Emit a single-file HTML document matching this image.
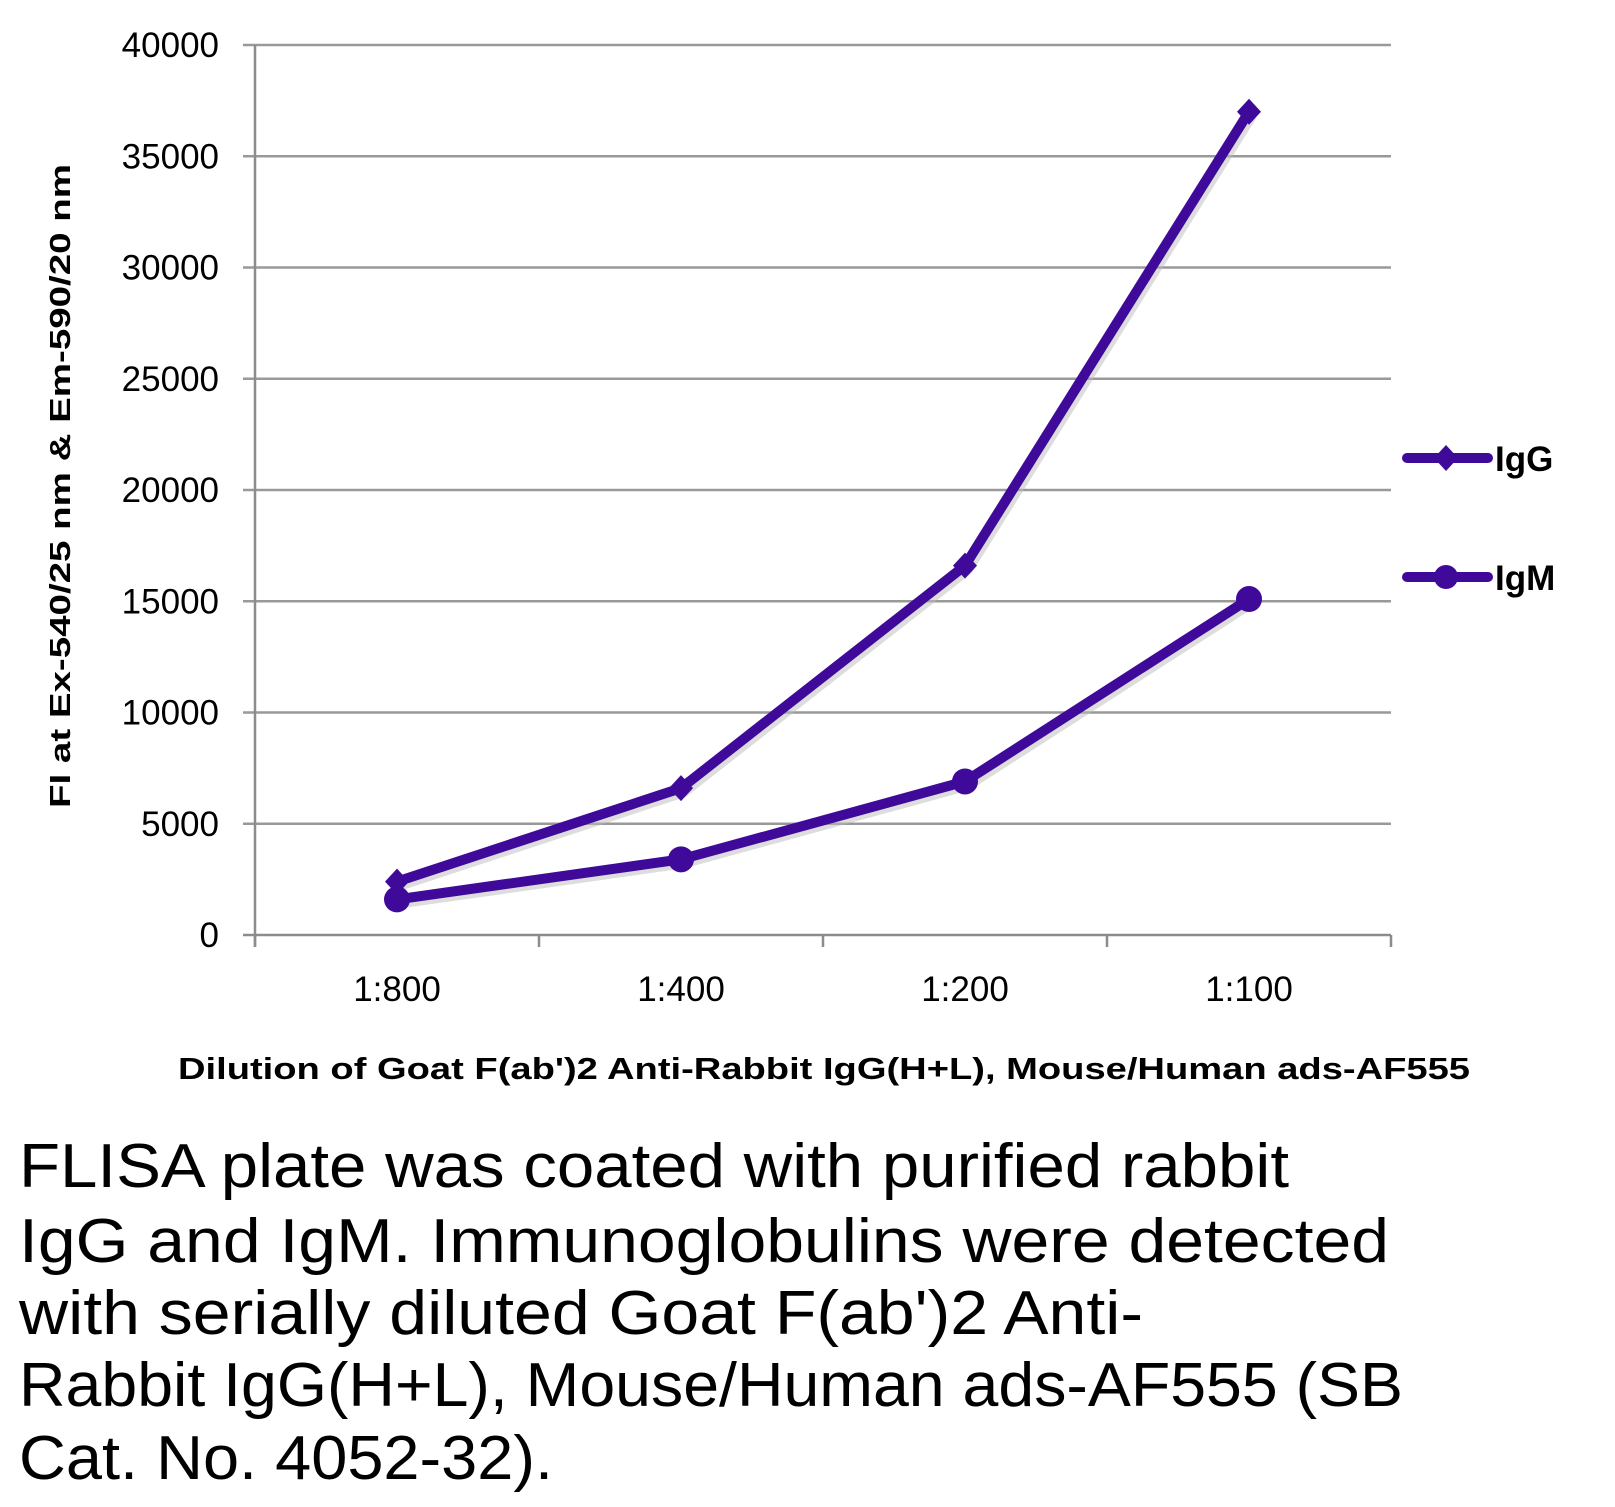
<!DOCTYPE html>
<html><head><meta charset="utf-8"><style>body{margin:0;background:#fff}svg{display:block}</style></head>
<body>
<svg id="chart" width="1615" height="1507" xmlns="http://www.w3.org/2000/svg" font-family="'Liberation Sans', sans-serif">
<g id="grid"></g>
<g id="axes"></g>
<g id="series"></g>
<text x="0" y="0" transform="translate(70,486) rotate(-90)" text-anchor="middle" font-size="29" font-weight="bold" textLength="644" lengthAdjust="spacingAndGlyphs">FI at Ex-540/25 nm &amp; Em-590/20 nm</text>
<text x="178" y="1079" font-size="31" font-weight="bold" textLength="1292" lengthAdjust="spacingAndGlyphs">Dilution of Goat F(ab')2 Anti-Rabbit IgG(H+L), Mouse/Human ads-AF555</text>
<g>
<g>
<line x1="1407" y1="458" x2="1488" y2="458" stroke="#3f0a9a" stroke-width="10" stroke-linecap="round"/>
<path d="M1446,445 L1458,458 L1446,471 L1434,458Z" fill="#3f0a9a"/>
<text x="1495" y="471" font-size="35" font-weight="bold">IgG</text></g>
<g>
<line x1="1407" y1="577" x2="1488" y2="577" stroke="#3f0a9a" stroke-width="10" stroke-linecap="round"/>
<circle cx="1446" cy="577" r="12" fill="#3f0a9a"/>
<text x="1495" y="590" font-size="35" font-weight="bold">IgM</text></g>
</g>
<g font-size="62">
<text x="19" y="1187" textLength="1270" lengthAdjust="spacingAndGlyphs">FLISA plate was coated with purified rabbit</text>
<text x="19" y="1262" textLength="1370" lengthAdjust="spacingAndGlyphs">IgG and IgM.  Immunoglobulins were detected</text>
<text x="19" y="1334" textLength="1124" lengthAdjust="spacingAndGlyphs">with serially diluted Goat F(ab')2 Anti-</text>
<text x="19" y="1406" textLength="1384" lengthAdjust="spacingAndGlyphs">Rabbit IgG(H+L), Mouse/Human ads-AF555 (SB</text>
<text x="19" y="1479" textLength="534" lengthAdjust="spacingAndGlyphs">Cat. No. 4052-32).</text>
</g>
</svg>
<script>
const categories = ["1:800","1:400","1:200","1:100"];
const iggValues = [2400, 6600, 16600, 37000];
const igmValues = [1600, 3400, 6900, 15100];
const yTicks = [0,5000,10000,15000,20000,25000,30000,35000,40000];
const NS="http://www.w3.org/2000/svg";
const x0=255,x1=1391,y0=935,y1=45,yMax=40000;
const band=(x1-x0)/categories.length;
const xs=i=>x0+band*(i+0.5);
const ys=v=>y0-(v/yMax)*(y0-y1);
function mk(t,a,p){const e=document.createElementNS(NS,t);for(const k in a)e.setAttribute(k,a[k]);p.appendChild(e);return e;}
const grid=document.getElementById('grid'),axes=document.getElementById('axes'),ser=document.getElementById('series');
yTicks.forEach(v=>{
  const l=mk('line',{x1:x0-12,x2:x1,y1:ys(v),y2:ys(v),stroke:v===0?'#8c8c8c':'#999','stroke-width':2.5},grid);
  
  
  const t=mk('text',{x:219,y:ys(v)+12,'text-anchor':'end','font-size':35},axes);
  t.textContent=v;
  
  
});
mk('line',{x1:x0,x2:x0,y1:y1,y2:y0+12,stroke:'#8c8c8c','stroke-width':2.5},axes);
for(let i=0;i<=categories.length;i++){
  mk('line',{x1:x0+band*i,x2:x0+band*i,y1:y0,y2:y0+12,stroke:'#8c8c8c','stroke-width':2.5},axes);
}
categories.forEach((c,i)=>{
  const t=mk('text',{x:xs(i),y:1001,'text-anchor':'middle','font-size':35},axes);
  t.textContent=c;
  
  
});
function drawSeries(vals,name,marker){
  const g=mk('g',{},ser);
  
  
  const pts=vals.map((v,i)=>xs(i)+','+ys(v)).join(' ');
  mk('polyline',{points:pts,fill:'none',stroke:'#bbb','stroke-width':10,'stroke-linejoin':'round',transform:'translate(3,4)',opacity:0.5},g);
  mk('polyline',{points:pts,fill:'none',stroke:'#3f0a9a','stroke-width':10,'stroke-linejoin':'round'},g);
  vals.forEach((v,i)=>{
    const cx=xs(i),cy=ys(v);let m;
    if(marker==='d') m=mk('path',{d:`M${cx},${cy-13} L${cx+12},${cy} L${cx},${cy+13} L${cx-12},${cy}Z`,fill:'#3f0a9a'},g);
    else m=mk('circle',{cx:cx,cy:cy,r:13,fill:'#3f0a9a'},g);
    
    
  });
}
drawSeries(iggValues,'igg-series','d');
drawSeries(igmValues,'igm-series','c');
</script>
</body></html>
